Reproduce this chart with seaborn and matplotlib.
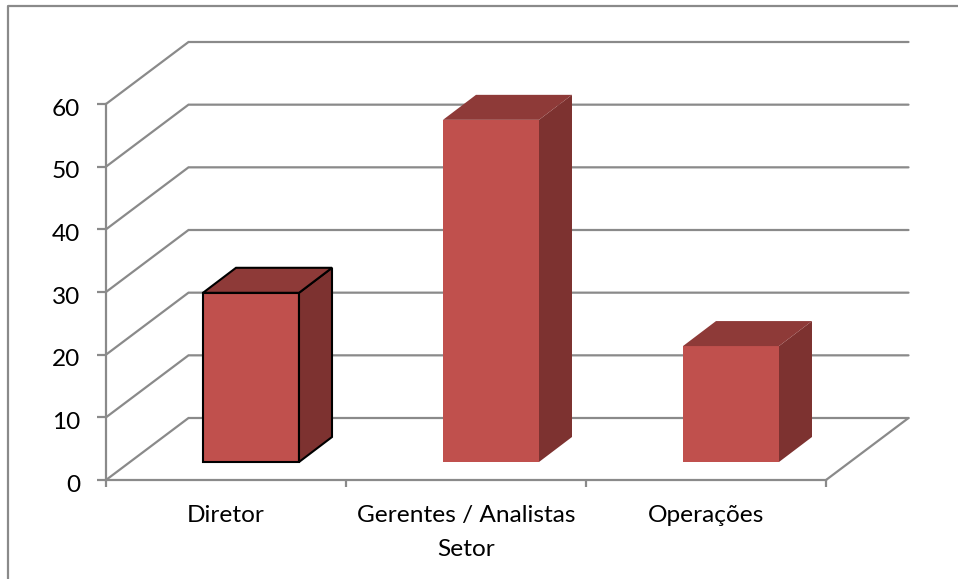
import seaborn as sns
import numpy as np
from matplotlib import pyplot as plt
from matplotlib import patches, lines, transforms
import pandas as pd

categorias = ['Diretor', 'Gerentes / Analistas', 'Operações']
valores = [27, 54.6, 18.5]
y_ticks = [0, 10, 20, 30, 40, 50, 60]
x_label = 'Setor'

cor_frente = '#C0504D'
cor_lado = '#7D3230'
cor_topo = '#8E3A38'
cinza = '#8A8A8A'
W, H = 958, 579
fonte = 17.6
lw_linha = 1.6

sns.set_theme(style="white")
plt.rcParams['font.family'] = ['Lato', 'DejaVu Sans']

fig = plt.figure(figsize=(W / 100, H / 100), dpi=100, facecolor='white')
ax = fig.add_axes([106 / W, 1 - 480 / H, 720 / W, 376 / H])

df = pd.DataFrame({'setor': categorias, 'valor': valores})
sns.barplot(data=df, x='setor', y='valor', color=cor_frente, saturation=1, width=0.4, ax=ax, zorder=3)
ax.set_xlim(-0.5, 2.5)
ax.set_ylim(0, 60)
ax.patch.set_alpha(0)

# escalas px -> dados
px_x = 3 / 720
px_y = 60 / 376

# parede do fundo (grade 3D)
fundo_x = 82.5 * px_x
fundo_y = 62 * px_y
for v in y_ticks:
    ax.plot([-0.5, -0.5 + fundo_x, 2.5 + fundo_x], [v, v + fundo_y, v + fundo_y],
            color=cinza, lw=lw_linha, clip_on=False, zorder=1, solid_joinstyle='miter')
ax.plot([2.5, 2.5 + fundo_x], [0, fundo_y], color=cinza, lw=lw_linha, clip_on=False, zorder=1)

# barras deslocadas para dentro, com topo e lateral
desloc = transforms.ScaledTranslation(25 / 100, 18 / 100, fig.dpi_scale_trans) + transforms.IdentityTransform()
trans = ax.transData + desloc
prof_x = 33 * px_x
prof_y = 25 * px_y
for i, bar in enumerate(ax.patches):
    x0 = bar.get_x()
    x1 = x0 + bar.get_width()
    topo = bar.get_height()
    edge = 'black' if i == 0 else 'none'
    lw = 1.5 if i == 0 else 0
    bar.set_transform(trans)
    bar.set_clip_on(False)
    bar.set_edgecolor(edge)
    bar.set_linewidth(lw)
    ax.add_patch(patches.Polygon([(x1, 0), (x1 + prof_x, prof_y), (x1 + prof_x, topo + prof_y), (x1, topo)],
                                 facecolor=cor_lado, edgecolor=edge, lw=lw, transform=trans, clip_on=False, zorder=3))
    ax.add_patch(patches.Polygon([(x0, topo), (x0 + prof_x, topo + prof_y), (x1 + prof_x, topo + prof_y), (x1, topo)],
                                 facecolor=cor_topo, edgecolor=edge, lw=lw, transform=trans, clip_on=False, zorder=3))

sns.despine(ax=ax, top=True, right=True)
for lado in ['left', 'bottom']:
    ax.spines[lado].set_color(cinza)
    ax.spines[lado].set_linewidth(lw_linha)

ax.set_yticks(y_ticks)
ax.set_xticks(range(len(categorias)))
ax.set_xticklabels(categorias)
ax.set_xticks([-0.5, 0.5, 1.5, 2.5], minor=True)
ax.tick_params(axis='y', which='major', left=True, length=6.5, width=lw_linha, color=cinza, labelsize=fonte, labelcolor='black', pad=12)
ax.tick_params(axis='x', which='major', bottom=False, length=0, labelsize=fonte, labelcolor='black', pad=18)
ax.tick_params(axis='x', which='minor', bottom=True, length=5, width=lw_linha, color=cinza)
ax.set_xlabel(x_label, fontsize=fonte, color='black', labelpad=9.5)
ax.set_ylabel('')

# rotulos do eixo y um pouco abaixo do tick
baixo = transforms.ScaledTranslation(0, -3 / 100, fig.dpi_scale_trans)
for t in ax.get_yticklabels():
    t.set_transform(t.get_transform() + baixo)

# moldura (so esquerda e topo aparecem no recorte)
fig.add_artist(lines.Line2D([8 / W, 8 / W, 1], [0, 1 - 6 / H, 1 - 6 / H], color=cinza, lw=lw_linha))

fig.savefig('out.png', dpi=100, facecolor='white')
